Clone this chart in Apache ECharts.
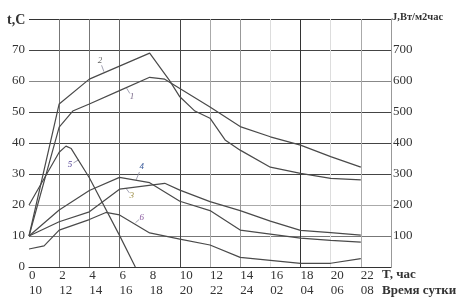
<!DOCTYPE html>
<html><head><meta charset="utf-8">
<script src="https://cdn.jsdelivr.net/npm/echarts@6/dist/echarts.min.js"></script>
<style>html,body{margin:0;padding:0;background:#fff}#c{width:461px;height:306px}</style>
</head><body><div id="c"></div>
<script>
// hours since 10:00 and clock-time labels
const hourTicks = [0,2,4,6,8,10,12,14,16,18,20,22];
const clockLabels = ['10','12','14','16','18','20','22','24','02','04','06','08'];
const tempTicks = [0,10,20,30,40,50,60,70];
const radTicks = [100,200,300,400,500,600,700];

// curve 1
const s1x = [0,2,2.9,4,6,8,9,12,14,16,18,20,22];
const s1y = [10,45.1,50.3,52.6,56.9,61.2,60.6,51.6,45.3,42,39.3,35.6,32.2];
// curve 2
const s2x = [0,2,4,6,8,9.3,10,11,12,13,14,16,18,20,22];
const s2y = [10,52.6,60.6,64.8,69,60.3,54.9,50.3,48,41,37.7,32.2,30.2,28.6,28.1];
// curve 3
const s3x = [0,2,4,6,9,10,12,14,16,18,20,22];
const s3y = [10,14.6,17.8,25.1,27,24.8,21.1,18.2,14.8,11.8,11.1,10.3];
// curve 4
const s4x = [0,2,4,6,8,10,12,14,16,18,20,22];
const s4y = [10,18.4,24.7,28.9,27.2,21.2,18.2,11.9,10.6,9.3,8.6,8.0];
// curve 5
const s5x = [0,2,2.45,2.8,4,6,7.05];
const s5y = [20,37,39,38.2,28.8,10.2,0];
// curve 6
const s6x = [0,1,2,4,5.1,6,8,10,12,14,18,20,22];
const s6y = [5.8,6.8,11.9,15.3,17.6,16.8,11,9,7.1,3.1,1.2,1.2,2.7];

// curve number labels: anchor on curve (data coords) + text offset in px
const curveNames = ['1','2','3','4','5','6'];
const labelAnchors = [[6.47,57.7],[4.97,63.0],[6.43,25.4],[7.1,28.1],[3.3,34.6],[7.06,14.3]];
const labelOffsets = [[5.4,8.9],[-4,-10.7],[5.7,7.7],[5.6,-13.2],[-8.8,5.3],[6.2,-5.4]];
const labelColors = ['#7a6a8a','#666','#9a8a40','#3a5a9a','#5a4a9a','#8a5aa0'];

const xs = [s1x,s2x,s3x,s4x,s5x,s6x], ys = [s1y,s2y,s3y,s4y,s5y,s6y];
const pair = (a,b) => a.map((v,i) => [v,b[i]]);

const chart = echarts.init(document.getElementById('c'), null, {renderer:'canvas'});
const font = '"Liberation Serif","DejaVu Serif",serif';
chart.setOption({
  animation:false,
  grid:{left:29, right:70, top:19, bottom:39, containLabel:false},
  xAxis:{type:'value', min:0, max:24, interval:2,
    axisLine:{show:true, lineStyle:{color:'#333', width:1}},
    axisTick:{show:false},
    splitLine:{show:true, lineStyle:{width:1, color:['rgba(0,0,0,0)','#777','#777','#666','rgba(0,0,0,0)','#444','#aaa','#999','#ddd','#333','#ddd','#aaa','#999']}},
    axisLabel:{margin:1, align:'left', color:'#333', fontFamily:font, fontSize:13, lineHeight:15,
      formatter:(v)=>{const i=hourTicks.indexOf(v); return i<0?'':(hourTicks[i]+'\n'+clockLabels[i]);}}
  },
  yAxis:[
    {type:'value', min:0, max:80, interval:10,
     axisLine:{show:false}, axisTick:{show:false},
     splitLine:{show:true, lineStyle:{width:1, color:['#333','#777','#aaa','#444','#444','#444','#888','#444','#333']}},
     axisLabel:{margin:4, color:'#333', fontFamily:font, fontSize:13, padding:[0,0,8,0],
       formatter:(v)=> tempTicks.includes(v)? String(v):''}},
    {type:'value', min:0, max:800, interval:100, position:'right',
     axisLine:{show:true, lineStyle:{color:'#999', width:1}}, axisTick:{show:false},
     splitLine:{show:false},
     axisLabel:{margin:2, color:'#333', fontFamily:font, fontSize:13,
       formatter:(v)=> radTicks.includes(v)? String(v):''}}
  ],
  series: xs.map((x,k)=>({type:'line', data:pair(x,ys[k]), symbol:'none', silent:true,
    lineStyle:{color:'#4a4a4a', width:1.2}}))
});

const g = [
  {type:'text', left:7, top:13, style:{text:'t,C', font:'bold 14px '+font, fill:'#333'}},
  {type:'text', left:392, top:12, style:{text:'J,Вт/м2час', font:'bold 10.5px '+font, fill:'#333'}},
  {type:'text', left:382, top:268, style:{text:'T, час', font:'bold 13px '+font, fill:'#333'}},
  {type:'text', left:382, top:284, style:{text:'Время сутки', font:'bold 13px '+font, fill:'#333'}}
];
labelAnchors.forEach((a,i)=>{
  const p = chart.convertToPixel({xAxisIndex:0, yAxisIndex:0}, a);
  const o = labelOffsets[i];
  g.push({type:'line', shape:{x1:p[0], y1:p[1], x2:p[0]+o[0]*0.6, y2:p[1]+o[1]*0.6},
    style:{stroke:'#8a8aa0', lineWidth:0.8}});
  g.push({type:'text', x:p[0]+o[0], y:p[1]+o[1],
    style:{text:curveNames[i], font:'italic 9px '+font, fill:labelColors[i], align:'center', verticalAlign:'middle'}});
});
chart.setOption({graphic:g});
</script></body></html>
